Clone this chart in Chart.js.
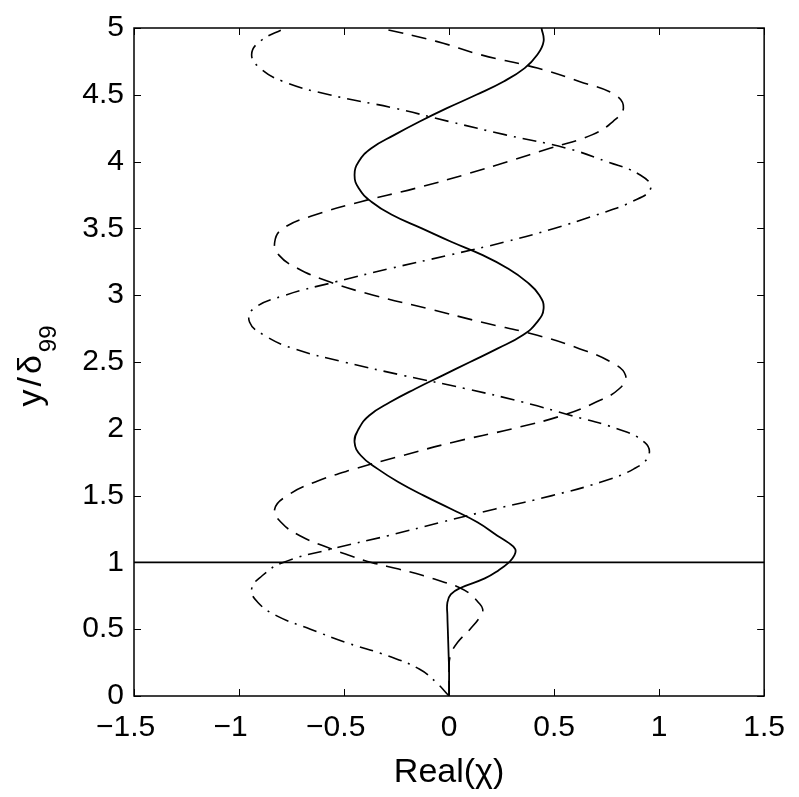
<!DOCTYPE html>
<html>
<head>
<meta charset="utf-8">
<script src="https://cdn.jsdelivr.net/npm/chart.js@4.4.1/dist/chart.umd.min.js"></script>
<style>
  html, body { margin: 0; padding: 0; background: #fff; }
  #wrap { width: 799px; height: 797px; }
</style>
</head>
<body>
<div id="wrap"><canvas id="chart" width="799" height="797"></canvas></div>
<script>
// values: x = Real(chi), y = y/delta99
const ySolid = [0, 0.1, 0.2, 0.3, 0.4, 0.5, 0.6, 0.7, 0.76, 0.81, 0.88, 0.94, 1.0, 1.05, 1.1, 1.15,
  1.2, 1.3, 1.4, 1.5, 1.6, 1.7, 1.8, 1.9, 2.0, 2.1, 2.2, 2.3, 2.4, 2.5, 2.6, 2.7, 2.8, 2.9,
  3.0, 3.1, 3.2, 3.3, 3.4, 3.5, 3.6, 3.7, 3.8, 3.9, 4.0, 4.1, 4.2, 4.3, 4.4, 4.5, 4.6, 4.7,
  4.8, 4.9, 5.0];
const xSolid = [0, 0, 0, -0.002, -0.004, -0.006, -0.008, -0.008, 0.008, 0.056, 0.17, 0.235, 0.285, 0.31, 0.315, 0.28,
  0.23, 0.135, 0.01, -0.12, -0.24, -0.34, -0.42, -0.45, -0.43, -0.38, -0.28, -0.16, -0.03, 0.10,
  0.23, 0.35, 0.42, 0.45, 0.43, 0.37, 0.28, 0.16, 0.01, -0.13, -0.27, -0.37, -0.43, -0.45,
  -0.43, -0.37, -0.26, -0.14, -0.01, 0.13, 0.26, 0.36, 0.42, 0.45, 0.44];

const yDashed = [0, 0.1, 0.2, 0.3, 0.4, 0.5, 0.6, 0.65, 0.7, 0.77, 0.82, 0.85, 0.9, 0.95, 1.0, 1.05, 1.1,
  1.2, 1.3, 1.4, 1.5, 1.6, 1.7, 1.8, 1.9, 2.0, 2.1, 2.2, 2.3, 2.4, 2.5, 2.6, 2.7, 2.8, 2.9,
  3.0, 3.1, 3.2, 3.3, 3.4, 3.5, 3.6, 3.7, 3.8, 3.9, 4.0, 4.1, 4.2, 4.3, 4.4, 4.5, 4.6, 4.7,
  4.8, 4.9, 5.0];
const xDashed = [0, 0, 0.0, 0.006, 0.04, 0.10, 0.15, 0.16, 0.14, 0.095, 0.037, -0.02, -0.12, -0.24, -0.37, -0.47, -0.56,
  -0.71, -0.80, -0.83, -0.77, -0.64, -0.45, -0.22, 0.02, 0.30, 0.54,
  0.70, 0.81, 0.84, 0.77, 0.62, 0.42, 0.15, -0.10, -0.36, -0.57,
  -0.72, -0.81, -0.83, -0.79, -0.64, -0.42, -0.16, 0.07, 0.28, 0.48,
  0.68, 0.78, 0.83, 0.79, 0.62, 0.42, 0.15, -0.06, -0.33];

const yDashDot = [0, 0.1, 0.2, 0.3, 0.4, 0.5, 0.6, 0.7, 0.8, 0.9, 1.0,
  1.1, 1.2, 1.3, 1.4, 1.5, 1.6, 1.7, 1.8, 1.9, 2.0, 2.1, 2.2, 2.3, 2.4, 2.5, 2.6, 2.7, 2.8, 2.9,
  3.0, 3.1, 3.2, 3.3, 3.4, 3.5, 3.6, 3.7, 3.8, 3.9, 4.0, 4.1, 4.2, 4.3, 4.4, 4.5, 4.6, 4.7,
  4.8, 4.9, 5.0];
const xDashDot = [0, -0.06, -0.14, -0.29, -0.49, -0.66, -0.82, -0.91, -0.94, -0.89, -0.79,
  -0.56, -0.29, -0.04, 0.22, 0.49, 0.72, 0.88, 0.95, 0.93, 0.80,
  0.58, 0.35, 0.08, -0.22, -0.50, -0.74, -0.88, -0.95, -0.93, -0.78,
  -0.54, -0.28, 0.0, 0.27, 0.50, 0.70, 0.87, 0.96, 0.91, 0.75,
  0.56, 0.27, 0.0, -0.26, -0.57, -0.79, -0.90, -0.94, -0.90, -0.78];

const xEdge = [-1.5, 1.5];   // horizontal line y/delta99 = 1
const yEdge = [1, 1];

// negative labels sit a little left of their ticks in the original
const xTickLabels = ['\u22121.5  ', '\u22121  ', '\u22120.5  ', '0', '0.5', '1', '1.5'];
const yTickLabels = ['0', '0.5', '1', '1.5', '2', '2.5', '3', '3.5', '4', '4.5', '5'];

const FONT = "'Liberation Sans', Arial, Helvetica, sans-serif";

function pts(xs, ys) {
  return xs.map((x, i) => ({ x: x, y: ys[i] }));
}

// box + inward ticks on all four sides, like matlab
const boxPlugin = {
  id: 'box',
  afterDatasetsDraw(chart) {
    const { ctx, chartArea: a, scales } = chart;
    ctx.save();
    ctx.strokeStyle = '#000';
    ctx.lineWidth = 1.5;
    ctx.strokeRect(a.left, a.top, a.right - a.left, a.bottom - a.top);
    ctx.lineWidth = 1;
    const len = 7;
    ctx.beginPath();
    scales.x.ticks.forEach(t => {
      const px = Math.round(scales.x.getPixelForValue(t.value)) + 0.5;
      ctx.moveTo(px, a.bottom); ctx.lineTo(px, a.bottom - len);
      ctx.moveTo(px, a.top); ctx.lineTo(px, a.top + len);
    });
    scales.y.ticks.forEach(t => {
      const py = Math.round(scales.y.getPixelForValue(t.value)) + 0.5;
      ctx.moveTo(a.left, py); ctx.lineTo(a.left + len, py);
      ctx.moveTo(a.right, py); ctx.lineTo(a.right - len, py);
    });
    ctx.stroke();

    // y axis title with subscript
    const cy = (a.top + a.bottom) / 2 + 4;
    ctx.translate(41, cy);
    ctx.rotate(-Math.PI / 2);
    ctx.fillStyle = '#000';
    ctx.textBaseline = 'alphabetic';
    ctx.font = '34px ' + FONT;
    if ('letterSpacing' in ctx) ctx.letterSpacing = '3px';
    const main = 'y/\u03b4';
    const w1 = ctx.measureText(main).width;
    ctx.font = '24px ' + FONT;
    if ('letterSpacing' in ctx) ctx.letterSpacing = '0px';
    const w2 = ctx.measureText('99').width;
    const start = -(w1 + w2) / 2;
    ctx.font = '34px ' + FONT;
    if ('letterSpacing' in ctx) ctx.letterSpacing = '3px';
    ctx.fillText(main, start, 0);
    ctx.font = '24px ' + FONT;
    if ('letterSpacing' in ctx) ctx.letterSpacing = '0px';
    ctx.fillText('99', start + w1, 15);
    ctx.restore();
  }
};

const line = (data, dash, width) => ({
  data: data,
  showLine: true,
  borderColor: '#000',
  borderWidth: width,
  borderDash: dash,
  pointRadius: 0,
  tension: 0.45,
  fill: false
});

new Chart(document.getElementById('chart'), {
  type: 'scatter',
  data: {
    datasets: [
      line(pts(xSolid, ySolid), [], 1.8),
      line(pts(xDashed, yDashed), [15, 9], 1.6),
      line(pts(xDashDot, yDashDot), [14, 7, 2, 7], 1.6),
      line(pts(xEdge, yEdge), [], 1.8)
    ]
  },
  options: {
    responsive: false,
    animation: false,
    layout: { padding: { left: 0, right: 32, top: 18, bottom: 0 } },
    plugins: { legend: { display: false }, tooltip: { enabled: false } },
    scales: {
      x: {
        type: 'linear', min: -1.5, max: 1.5,
        border: { display: false },
        grid: { display: false, drawTicks: false },
        ticks: {
          stepSize: 0.5, color: '#000', padding: 14,
          font: { family: FONT, size: 30 },
          callback: (v, i) => xTickLabels[i]
        },
        title: {
          display: true, text: 'Real(\u03c7)', color: '#000',
          font: { family: FONT, size: 34 }, padding: { top: 6 }
        },
        afterFit: s => { s.height = 101; }
      },
      y: {
        type: 'linear', min: 0, max: 5,
        border: { display: false },
        grid: { display: false, drawTicks: false },
        ticks: {
          stepSize: 0.5, color: '#000', padding: 10,
          font: { family: FONT, size: 30 },
          callback: (v, i) => yTickLabels[i]
        },
        afterFit: s => { s.width = 134; }
      }
    }
  },
  plugins: [boxPlugin]
});
</script>
</body>
</html>
